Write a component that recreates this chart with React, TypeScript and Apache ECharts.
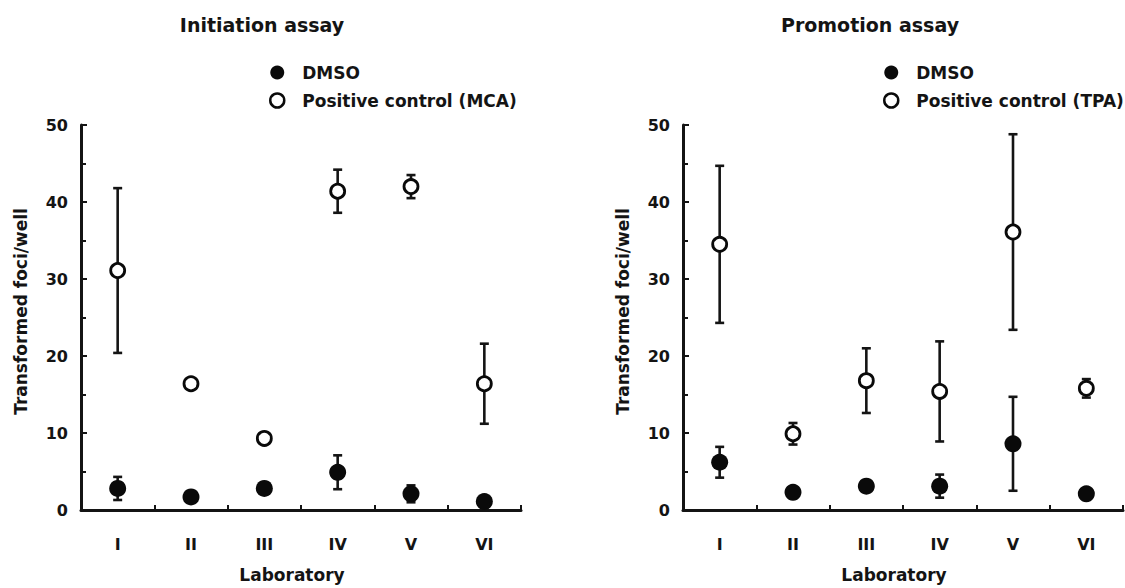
import { useEffect, useRef } from "react";
import * as echarts from "echarts";

// Laboratories on the x axis of both panels
const laboratories = ["I", "II", "III", "IV", "V", "VI"];

// Y axis range (transformed foci per well)
const yMin = 0;
const yMax = 50;
const yInterval = 10;

// Initiation assay: means and SDs per laboratory
const initiationDmso = [2.8, 1.7, 2.8, 4.9, 2.1, 1.1];
const initiationDmsoSd = [1.5, 0, 0, 2.2, 1.1, 0];
const initiationMca = [31.1, 16.4, 9.3, 41.4, 42.0, 16.4];
const initiationMcaSd = [10.7, 0, 0, 2.8, 1.5, 5.2];

// Promotion assay: means and SDs per laboratory
const promotionDmso = [6.2, 2.3, 3.1, 3.1, 8.6, 2.1];
const promotionDmsoSd = [2.0, 0, 0, 1.5, 6.1, 0];
const promotionTpa = [34.5, 9.9, 16.8, 15.4, 36.1, 15.8];
const promotionTpaSd = [10.2, 1.4, 4.2, 6.5, 12.7, 1.2];

const FONT = "DejaVu Sans";
const INK = "#141414";

function errorRows(means: number[], sds: number[]) {
  const rows: number[][] = [];
  means.forEach((m, i) => {
    if (sds[i] > 0) rows.push([i, m - sds[i], m + sds[i]]);
  });
  return rows;
}

function renderErrorBar(_params: any, api: any) {
  const x = api.value(0);
  const lo = api.coord([x, api.value(1)]);
  const hi = api.coord([x, api.value(2)]);
  const hw = 4.5;
  const style = { stroke: INK, lineWidth: 2.6 };
  return {
    type: "group",
    children: [
      { type: "line", shape: { x1: lo[0], y1: lo[1], x2: hi[0], y2: hi[1] }, style },
      { type: "line", shape: { x1: hi[0] - hw, y1: hi[1], x2: hi[0] + hw, y2: hi[1] }, style },
      { type: "line", shape: { x1: lo[0] - hw, y1: lo[1], x2: lo[0] + hw, y2: lo[1] }, style },
    ],
  };
}

function xAxisFor(gridIndex: number) {
  return {
    type: "category",
    gridIndex,
    data: laboratories,
    boundaryGap: true,
    axisLine: { lineStyle: { color: INK, width: 3 } },
    axisTick: { show: true, inside: true, length: 5, lineStyle: { color: INK, width: 2 } },
    axisLabel: { margin: 26, fontFamily: FONT, fontWeight: "bold", fontSize: 16, color: INK },
    name: "Laboratory",
    nameLocation: "middle",
    nameGap: 56,
    nameTextStyle: { fontFamily: FONT, fontWeight: "bold", fontSize: 17, color: INK, padding: [0, 18, 0, 0] },
    splitLine: { show: false },
  };
}

function yAxisFor(gridIndex: number) {
  return {
    type: "value",
    gridIndex,
    min: yMin,
    max: yMax,
    interval: yInterval,
    axisLine: { show: true, lineStyle: { color: INK, width: 3 } },
    axisTick: { show: true, inside: true, length: 6, lineStyle: { color: INK, width: 2 } },
    minorTick: { show: true, splitNumber: 2, length: 5, lineStyle: { color: INK, width: 2 } },
    axisLabel: { margin: 13, fontFamily: FONT, fontWeight: "bold", fontSize: 16, color: INK },
    splitLine: { show: false },
    name: "Transformed foci/well",
    nameLocation: "middle",
    nameGap: 52,
    nameTextStyle: { fontFamily: FONT, fontWeight: "bold", fontSize: 17, color: INK, padding: [0, 0, 0, 12] },
  };
}

function panelSeries(idx: number, ctrlName: string, dmso: number[], dmsoSd: number[], ctrl: number[], ctrlSd: number[]) {
  return [
    {
      type: "custom",
      xAxisIndex: idx,
      yAxisIndex: idx,
      renderItem: renderErrorBar,
      data: errorRows(ctrl, ctrlSd),
      encode: { x: 0, y: [1, 2] },
      z: 2,
    },
    {
      type: "custom",
      xAxisIndex: idx,
      yAxisIndex: idx,
      renderItem: renderErrorBar,
      data: errorRows(dmso, dmsoSd),
      encode: { x: 0, y: [1, 2] },
      z: 2,
    },
    {
      name: "DMSO",
      type: "scatter",
      xAxisIndex: idx,
      yAxisIndex: idx,
      data: dmso,
      symbol: "circle",
      symbolSize: 17,
      itemStyle: { color: "#0a0a0a", opacity: 1 },
      z: 3,
    },
    {
      name: ctrlName,
      type: "scatter",
      xAxisIndex: idx,
      yAxisIndex: idx,
      data: ctrl,
      symbol: "circle",
      symbolSize: 14,
      itemStyle: { color: "#ffffff", borderColor: "#0a0a0a", borderWidth: 2.8, opacity: 1 },
      z: 3,
    },
  ];
}

function legendFor(left: number, ctrlName: string) {
  return {
    orient: "vertical",
    left,
    top: 59,
    itemWidth: 14,
    itemHeight: 14,
    itemGap: 11,
    icon: "circle",
    selectedMode: false,
    textStyle: { fontFamily: FONT, fontWeight: "bold", fontSize: 17, color: INK, lineHeight: 17, padding: [0, 0, 0, 13] },
    data: [
      { name: "DMSO", itemStyle: { color: "#0a0a0a", borderWidth: 0, opacity: 1 } },
      { name: ctrlName, itemStyle: { color: "#ffffff", borderColor: "#0a0a0a", borderWidth: 2.5, opacity: 1 } },
    ],
  };
}

export default function App() {
  const ref = useRef<HTMLDivElement>(null);

  useEffect(() => {
    if (!ref.current) return;
    const chart = echarts.init(ref.current, null, { renderer: "svg" });
    chart.setOption({
      animation: false,
      backgroundColor: "#ffffff",
      title: [
        {
          text: "Initiation assay",
          left: 262,
          top: 15,
          textAlign: "center",
          padding: 0,
          textStyle: { fontFamily: FONT, fontWeight: "bold", fontSize: 19, color: INK },
        },
        {
          text: "Promotion assay",
          left: 870,
          top: 15,
          textAlign: "center",
          padding: 0,
          textStyle: { fontFamily: FONT, fontWeight: "bold", fontSize: 19, color: INK },
        },
      ],
      legend: [
        legendFor(264, "Positive control (MCA)"),
        legendFor(878, "Positive control (TPA)"),
      ],
      grid: [
        { left: 81, top: 125, width: 440, height: 388 },
        { left: 683, top: 125, width: 440, height: 388 },
      ],
      xAxis: [xAxisFor(0), xAxisFor(1)],
      yAxis: [yAxisFor(0), yAxisFor(1)],
      series: [
        ...panelSeries(0, "Positive control (MCA)", initiationDmso, initiationDmsoSd, initiationMca, initiationMcaSd),
        ...panelSeries(1, "Positive control (TPA)", promotionDmso, promotionDmsoSd, promotionTpa, promotionTpaSd),
      ],
    });
    return () => chart.dispose();
  }, []);

  return (
    <div
      ref={ref}
      style={{ position: "fixed", left: 0, top: 0, width: 1125, height: 588, background: "#fff" }}
    />
  );
}
